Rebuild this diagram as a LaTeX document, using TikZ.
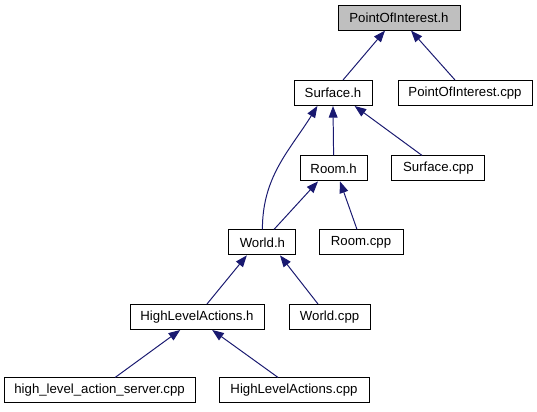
\documentclass[tikz,border=0pt]{standalone}
\usepackage{fontspec}
\setmainfont{Liberation Sans}
\usetikzlibrary{arrows.meta}
\definecolor{edgeblue}{RGB}{25,25,112}
\definecolor{rootgray}{RGB}{191,191,191}

\begin{document}
\begin{tikzpicture}[
    file/.style={draw=black, line width=0.7pt, fill=white, minimum height=0.625cm,
      inner sep=0pt, font=\fontsize{9.4}{11}\selectfont},
    dep/.style={draw=edgeblue, line width=0.7pt,
      -{Triangle[length=2.9mm, width=2.2mm]}}]
  \useasboundingbox (0,0) rectangle (13.425,-10.275);
  % header files and their sources
  \node[file, fill=rootgray, minimum width=3.05cm] (poih) at (9.975,-0.44) {PointOfInterest.h};
  \node[file, minimum width=1.95cm] (surfh) at (8.325,-2.325) {Surface.h};
  \node[file, minimum width=3.35cm] (poicpp) at (11.625,-2.325) {PointOfInterest.cpp};
  \node[file, minimum width=1.675cm] (roomh) at (8.34,-4.21) {Room.h};
  \node[file, minimum width=2.325cm] (surfcpp) at (10.96,-4.21) {Surface.cpp};
  \node[file, minimum width=1.675cm] (worldh) at (6.56,-6.06) {World.h};
  \node[file, minimum width=2.1cm] (roomcpp) at (9.025,-6.06) {Room.cpp};
  \node[file, minimum width=3.35cm] (hlah) at (4.925,-7.925) {HighLevelActions.h};
  \node[file, minimum width=2.025cm] (worldcpp) at (8.24,-7.925) {World.cpp};
  \node[file, minimum width=4.775cm] (hlascpp) at (2.49,-9.76) {high\_level\_action\_server.cpp};
  \node[file, minimum width=3.75cm] (hlacpp) at (7.35,-9.76) {HighLevelActions.cpp};
  % include edges
  \draw[dep] ([xshift=0.25cm]surfh.north) -- ([xshift=-0.35cm]poih.south);
  \draw[dep] ([xshift=-0.25cm]poicpp.north) -- ([xshift=0.3cm]poih.south);
  \draw[dep] (roomh.north) -- (surfh.south);
  \draw[dep] ([xshift=-0.41cm]surfcpp.north) -- ([xshift=0.54cm]surfh.south);
  \draw[dep] (worldh.north) to[out=90, in=-122] ([xshift=-0.39cm]surfh.south);
  \draw[dep] ([xshift=0.29cm]worldh.north) -- ([xshift=-0.39cm]roomh.south);
  \draw[dep] ([xshift=-0.1cm]roomcpp.north) -- ([xshift=0.16cm]roomh.south);
  \draw[dep] ([xshift=0.25cm]hlah.north) -- ([xshift=-0.39cm]worldh.south);
  \draw[dep] ([xshift=-0.29cm]worldcpp.north) -- ([xshift=0.44cm]worldh.south);
  \draw[dep] ([xshift=0.39cm]hlascpp.north) -- ([xshift=-0.42cm]hlah.south);
  \draw[dep] ([xshift=-0.4cm]hlacpp.north) -- ([xshift=0.38cm]hlah.south);
\end{tikzpicture}
\end{document}
